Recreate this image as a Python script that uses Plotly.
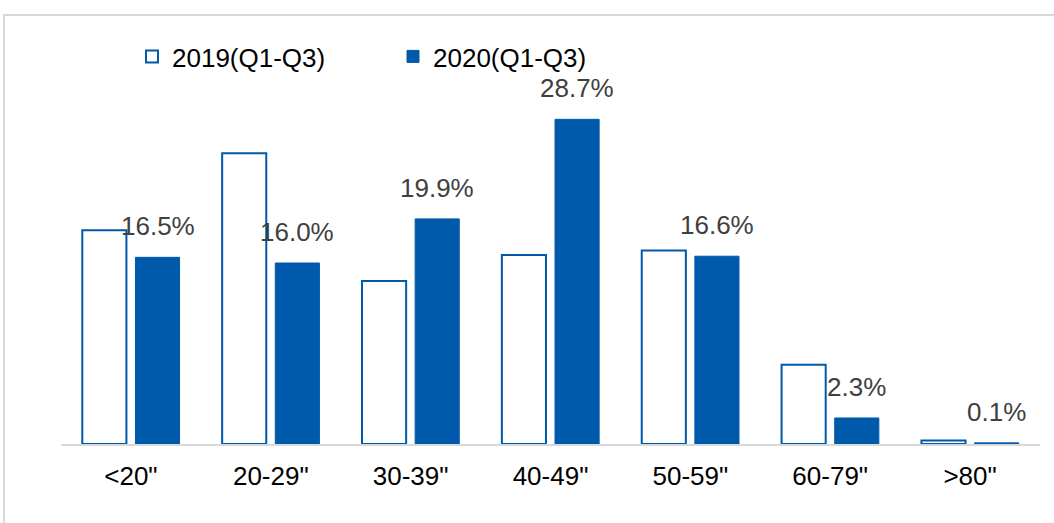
import plotly.graph_objects as go

# Screen-size buckets and share of shipments (%)
categories = ['<20"', '20-29"', '30-39"', '40-49"', '50-59"', '60-79"', '>80"']
share_2019 = [18.9, 25.7, 14.4, 16.7, 17.1, 7.0, 0.3]
share_2020 = [16.5, 16.0, 19.9, 28.7, 16.6, 2.3, 0.1]
label_2020 = ["16.5%", "16.0%", "19.9%", "28.7%", "16.6%", "2.3%", "0.1%"]

BLUE = "#005aab"
FONT = "Liberation Sans, Arial, sans-serif"
FS = 26

W, H = 1054, 523
M_L, M_R, M_T, M_B = 61, 14, 82, 79
plot_w = W - M_L - M_R
plot_h = H - M_T - M_B

fig = go.Figure()
fig.add_trace(go.Bar(
    name="2019(Q1-Q3)", x=categories, y=share_2019,
    marker=dict(color="white", line=dict(color=BLUE, width=2)),
))
fig.add_trace(go.Bar(
    name="2020(Q1-Q3)", x=categories, y=share_2020,
    marker=dict(color=BLUE, line=dict(color=BLUE, width=1)),
))

# value labels above the 2020 bars
bargap, groupgap = 0.24, 0.17
slot_px = plot_w / len(categories) * (1 - bargap) / 2
for cat, val, txt in zip(categories, share_2020, label_2020):
    fig.add_annotation(
        x=cat, y=val, text=txt, showarrow=False,
        xshift=slot_px / 2, yshift=31, yanchor="middle",
        font=dict(family=FONT, size=FS, color="#404040"),
    )

# light frame around the chart area
fig.add_shape(
    type="rect", xref="paper", yref="paper",
    x0=(4 - M_L) / plot_w, x1=(W + 10 - M_L) / plot_w,
    y0=-(M_B + 10) / plot_h, y1=(H - M_B - 15) / plot_h,
    line=dict(color="#d9d9d9", width=2), fillcolor="rgba(0,0,0,0)", layer="below",
)

fig.update_layout(
    width=W, height=H,
    margin=dict(l=M_L, r=M_R, t=M_T, b=M_B),
    paper_bgcolor="white", plot_bgcolor="white",
    barmode="group", bargap=bargap, bargroupgap=groupgap,
    font=dict(family=FONT, size=FS, color="black"),
    showlegend=True,
    legend=dict(
        orientation="h", x=(152 - 20 - M_L) / plot_w, xanchor="left",
        y=(H - M_B - 33) / plot_h, yanchor="top",
        entrywidth=216, font=dict(family=FONT, size=FS, color="black"),
        bgcolor="rgba(0,0,0,0)",
    ),
    xaxis=dict(
        showline=True, linecolor="#d9d9d9", linewidth=2,
        ticks="outside", ticklen=8, tickcolor="rgba(0,0,0,0)",
        tickfont=dict(family=FONT, size=FS, color="black"),
        showgrid=False,
    ),
    yaxis=dict(range=[0, 32], visible=False, showgrid=False, zeroline=False),
)

fig.write_html("out.html")
